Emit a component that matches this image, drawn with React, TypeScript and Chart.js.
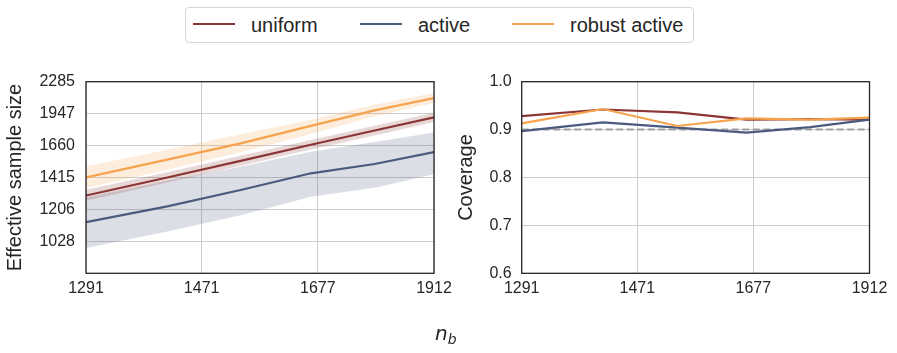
import React, { useEffect, useRef } from 'react';
import { Chart, registerables } from 'chart.js';

Chart.register(...registerables);

// ---- data ----
const nb = [1291, 1415, 1539, 1664, 1788, 1912];
const xTickValues = [1291, 1471, 1677, 1912];
const essTickValues = [1028, 1206, 1415, 1660, 1947, 2285];
const covTickValues = [0.6, 0.7, 0.8, 0.9, 1.0];

const essUniform = [1293, 1415, 1540, 1667, 1790, 1912];
const essUniformLo = [1260, 1380, 1502, 1627, 1746, 1868];
const essUniformHi = [1331, 1452, 1580, 1708, 1834, 1957];

const essActive = [1132, 1225, 1331, 1445, 1514, 1607];
const essActiveLo = [995, 1080, 1173, 1285, 1344, 1438];
const essActiveHi = [1280, 1393, 1495, 1610, 1690, 1772];

const essRobust = [1416, 1547, 1680, 1832, 1980, 2106];
const essRobustLo = [1342, 1471, 1607, 1759, 1922, 2054];
const essRobustHi = [1496, 1626, 1759, 1889, 2037, 2159];

const covUniform = [0.928, 0.942, 0.936, 0.921, 0.922, 0.921];
const covActive = [0.897, 0.915, 0.904, 0.8935, 0.905, 0.921];
const covRobust = [0.913, 0.943, 0.9075, 0.9235, 0.921, 0.925];
const covTarget = [0.9, 0.9];
const covTargetX = [1291, 1912];

const seriesNames = ['uniform', 'active', 'robust active'];
const seriesColors = ['#8b3535', '#4a5b7e', '#f7a34e'];
const bandColors = ['rgba(139,53,53,0.2)', 'rgba(74,91,126,0.2)', 'rgba(247,163,78,0.2)'];

const FONT = "'Liberation Sans', Arial, sans-serif";
const TEXT = '#262626';
const GRID = '#cccccc';

const pts = (xs: number[], ys: number[]) => xs.map((x, i) => ({ x, y: ys[i] }));

const framePlugin = {
  id: 'frame',
  afterDatasetsDraw(chart: any) {
    const { ctx, chartArea } = chart;
    const { left, top, right, bottom } = chartArea;
    ctx.save();
    ctx.strokeStyle = TEXT;
    ctx.lineWidth = 1.3;
    ctx.strokeRect(left, top, right - left, bottom - top);
    ctx.restore();
  },
};

function lineDs(label: string, data: any, color: string, order: number, extra: any = {}) {
  return {
    label,
    data,
    borderColor: color,
    backgroundColor: color,
    borderWidth: 2.2,
    pointRadius: 0,
    tension: 0,
    fill: false,
    order,
    ...extra,
  };
}

function bandDs(lo: number[], hi: number[], color: string, order: number) {
  return [
    {
      label: 'lo',
      data: pts(nb, lo),
      borderWidth: 0,
      borderColor: 'rgba(0,0,0,0)',
      pointRadius: 0,
      tension: 0,
      fill: false,
      order,
    },
    {
      label: 'hi',
      data: pts(nb, hi),
      borderWidth: 0,
      borderColor: 'rgba(0,0,0,0)',
      backgroundColor: color,
      pointRadius: 0,
      tension: 0,
      fill: '-1',
      order,
    },
  ];
}

function xScale() {
  return {
    type: 'logarithmic',
    min: 1291,
    max: 1912,
    afterBuildTicks: (s: any) => {
      s.ticks = xTickValues.map((v) => ({ value: v }));
    },
    afterFit: (s: any) => {
      s.height = 79.7;
    },
    ticks: {
      autoSkip: false,
      maxRotation: 0,
      minRotation: 0,
      padding: 6,
      color: TEXT,
      font: { family: FONT, size: 16 },
      callback: (v: any) => String(v),
    },
    grid: { color: GRID, lineWidth: 1, drawTicks: false },
    border: { display: false },
  };
}

export default function App() {
  const leftRef = useRef<HTMLCanvasElement | null>(null);
  const rightRef = useRef<HTMLCanvasElement | null>(null);

  useEffect(() => {
    const left = new Chart(leftRef.current as HTMLCanvasElement, {
      type: 'line',
      data: {
        datasets: [
          lineDs(seriesNames[2], pts(nb, essRobust), seriesColors[2], 0),
          lineDs(seriesNames[1], pts(nb, essActive), seriesColors[1], 1),
          lineDs(seriesNames[0], pts(nb, essUniform), seriesColors[0], 2),
          ...bandDs(essRobustLo, essRobustHi, bandColors[2], 10),
          ...bandDs(essActiveLo, essActiveHi, bandColors[1], 12),
          ...bandDs(essUniformLo, essUniformHi, bandColors[0], 11),
        ] as any,
      },
      options: {
        animation: false,
        responsive: false,
        maintainAspectRatio: false,
        layout: { padding: { top: 81.7, right: 36, bottom: 0, left: 0 } },
        plugins: { legend: { display: false }, tooltip: { enabled: false } },
        scales: {
          x: xScale(),
          y: {
            type: 'logarithmic',
            min: 876.2,
            max: 2285,
            afterBuildTicks: (s: any) => {
              s.ticks = essTickValues.map((v) => ({ value: v }));
            },
            afterFit: (s: any) => {
              s.width = 86;
            },
            ticks: {
              autoSkip: false,
              padding: 11,
              color: TEXT,
              font: { family: FONT, size: 16 },
              callback: (v: any) => String(v),
            },
            grid: { color: GRID, lineWidth: 1, drawTicks: false },
            border: { display: false },
            title: {
              display: true,
              text: 'Effective sample size',
              color: TEXT,
              font: { family: FONT, size: 20 },
              padding: { top: 3, bottom: 0 },
            },
          },
        } as any,
      },
      plugins: [framePlugin],
    } as any);

    const right = new Chart(rightRef.current as HTMLCanvasElement, {
      type: 'line',
      data: {
        datasets: [
          lineDs(seriesNames[2], pts(nb, covRobust), seriesColors[2], 0),
          lineDs(seriesNames[1], pts(nb, covActive), seriesColors[1], 1),
          lineDs(seriesNames[0], pts(nb, covUniform), seriesColors[0], 2),
          lineDs('target', pts(covTargetX, covTarget), '#a0a0a0', 5, { borderDash: [7, 3.5], borderWidth: 2 }),
        ] as any,
      },
      options: {
        animation: false,
        responsive: false,
        maintainAspectRatio: false,
        layout: { padding: { top: 81.7, right: 27.5, bottom: 0, left: 0 } },
        plugins: { legend: { display: false }, tooltip: { enabled: false } },
        scales: {
          x: xScale(),
          y: {
            type: 'linear',
            min: 0.6,
            max: 1.0,
            afterBuildTicks: (s: any) => {
              s.ticks = covTickValues.map((v) => ({ value: v }));
            },
            afterFit: (s: any) => {
              s.width = 81.7;
            },
            ticks: {
              autoSkip: false,
              padding: 10,
              color: TEXT,
              font: { family: FONT, size: 16 },
              callback: (v: any) => Number(v).toFixed(1),
            },
            grid: { color: GRID, lineWidth: 1, drawTicks: false },
            border: { display: false },
            title: {
              display: true,
              text: 'Coverage',
              color: TEXT,
              font: { family: FONT, size: 20 },
              padding: { top: 14, bottom: 0 },
            },
          },
        } as any,
      },
      plugins: [framePlugin],
    } as any);

    return () => {
      left.destroy();
      right.destroy();
    };
  }, []);

  const legendItems = [
    { line: 8, text: 66 },
    { line: 175, text: 233 },
    { line: 327, text: 385 },
  ];

  return (
    <div style={{ position: 'absolute', left: 0, top: 0, width: 897, height: 353, background: 'white', overflow: 'hidden' }}>
      <canvas ref={leftRef} width={470} height={353} style={{ position: 'absolute', left: 0, top: 0, width: 470, height: 353 }} />
      <canvas ref={rightRef} width={457} height={353} style={{ position: 'absolute', left: 440, top: 0, width: 457, height: 353 }} />
      <div
        style={{
          position: 'absolute',
          left: 185,
          top: 7,
          width: 509,
          height: 36,
          border: '1px solid #d6d6d6',
          borderRadius: 4,
          boxSizing: 'border-box',
          background: 'white',
        }}
      >
        {seriesNames.map((name, i) => (
          <React.Fragment key={name}>
            <div
              style={{
                position: 'absolute',
                left: legendItems[i].line - 1,
                top: 15,
                width: 42,
                height: 2,
                background: seriesColors[i],
              }}
            />
            <div
              style={{
                position: 'absolute',
                left: legendItems[i].text - 1,
                top: 6.8,
                fontFamily: FONT,
                fontSize: 20,
                lineHeight: '20px',
                color: TEXT,
                whiteSpace: 'nowrap',
              }}
            >
              {name}
            </div>
          </React.Fragment>
        ))}
      </div>
      <div
        style={{
          position: 'absolute',
          left: 435,
          top: 323,
          fontFamily: "'DejaVu Sans', sans-serif",
          fontStyle: 'italic',
          fontSize: 20,
          lineHeight: '20px',
          color: TEXT,
          whiteSpace: 'nowrap',
        }}
      >
        n
        <span style={{ fontSize: 14, position: 'relative', top: 4 }}>b</span>
      </div>
    </div>
  );
}
